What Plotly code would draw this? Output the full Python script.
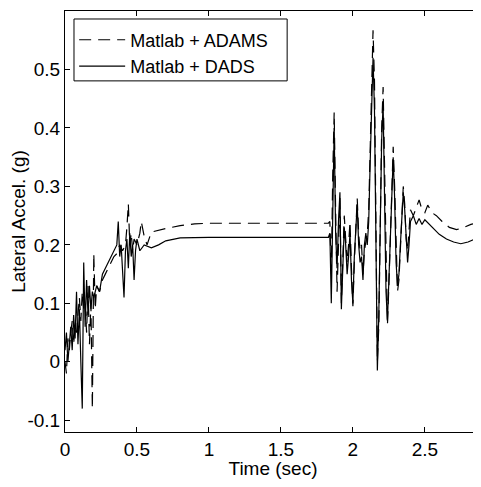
import plotly.graph_objects as go

# Matlab + ADAMS (dashed)
t_adams = [0.00, 0.01, 0.02, 0.03, 0.04, 0.05, 0.06, 0.07, 0.08, 0.09, 0.10, 0.11, 0.12, 0.13, 0.14,
           0.15, 0.16, 0.17, 0.18, 0.19, 0.20, 0.21, 0.22, 0.24, 0.26, 0.28, 0.30, 0.32, 0.34, 0.36,
           0.38, 0.40, 0.42, 0.43, 0.44, 0.45, 0.46, 0.47, 0.48, 0.50, 0.52, 0.53, 0.55, 0.57, 0.60,
           0.70, 0.80, 0.90, 1.00, 1.20, 1.40, 1.60, 1.82,
           1.83, 1.84, 1.85, 1.86, 1.87, 1.88, 1.89, 1.90, 1.91, 1.92, 1.93, 1.94, 1.95, 1.96, 1.97,
           1.98, 1.99, 2.00, 2.01, 2.02, 2.03, 2.04, 2.05, 2.06, 2.07, 2.08, 2.09, 2.10, 2.11, 2.12,
           2.13, 2.14, 2.15, 2.16, 2.17, 2.18, 2.19, 2.20, 2.21, 2.22, 2.23, 2.24, 2.25, 2.26, 2.27,
           2.28, 2.29, 2.30, 2.31, 2.32, 2.33, 2.34, 2.35, 2.36, 2.37, 2.38, 2.39, 2.40, 2.42, 2.44,
           2.46, 2.48, 2.50, 2.52, 2.55, 2.58, 2.62, 2.67, 2.72, 2.77, 2.82, 2.89]
v_adams = [0.00, -0.02, 0.04, 0.02, 0.05, 0.07, 0.03, 0.06, 0.05, 0.08, 0.11, 0.07, 0.12, 0.09, 0.10,
           0.05, 0.13, 0.03, 0.10, -0.08, 0.185, 0.09, 0.13, 0.12, 0.14, 0.15, 0.16, 0.17, 0.18, 0.185,
           0.20, 0.19, 0.20, 0.23, 0.27, 0.20, 0.22, 0.19, 0.21, 0.20, 0.22, 0.24, 0.215, 0.20, 0.222,
           0.228, 0.233, 0.236, 0.237, 0.237, 0.237, 0.237, 0.237,
           0.237, 0.24, 0.15, 0.32, 0.427, 0.26, 0.12, 0.20, 0.28, 0.10, 0.20, 0.25, 0.21, 0.17, 0.20,
           0.24, 0.16, 0.095, 0.17, 0.22, 0.28, 0.22, 0.19, 0.20, 0.15, 0.19, 0.21, 0.22, 0.26, 0.38,
           0.50, 0.567, 0.48, 0.25, 0.00, 0.06, 0.22, 0.40, 0.47, 0.34, 0.15, 0.063, 0.13, 0.21, 0.29,
           0.368, 0.30, 0.19, 0.12, 0.14, 0.20, 0.26, 0.30, 0.27, 0.21, 0.19, 0.23, 0.26, 0.25, 0.265,
           0.277, 0.26, 0.255, 0.268, 0.255, 0.25, 0.24, 0.23, 0.226, 0.23, 0.235, 0.24]

# Matlab + DADS (solid)
t_dads = [0.00, 0.01, 0.02, 0.03, 0.04, 0.05, 0.06, 0.07, 0.08, 0.09, 0.10, 0.11, 0.12, 0.13, 0.14,
          0.15, 0.16, 0.17, 0.18, 0.19, 0.20, 0.22, 0.24, 0.26, 0.28, 0.30, 0.32, 0.34, 0.36, 0.37,
          0.38, 0.39, 0.40, 0.41, 0.42, 0.43, 0.44, 0.45, 0.46, 0.47, 0.48, 0.49, 0.50, 0.52, 0.55,
          0.60, 0.65, 0.70, 0.80, 0.90, 1.00, 1.20, 1.40, 1.60, 1.82,
          1.83, 1.84, 1.85, 1.86, 1.87, 1.88, 1.89, 1.90, 1.91, 1.92, 1.93, 1.94, 1.95, 1.96, 1.97,
          1.98, 1.99, 2.00, 2.01, 2.02, 2.03, 2.04, 2.05, 2.06, 2.07, 2.08, 2.09, 2.10, 2.11, 2.12,
          2.13, 2.14, 2.15, 2.16, 2.17, 2.18, 2.19, 2.20, 2.21, 2.22, 2.23, 2.24, 2.25, 2.26, 2.27,
          2.28, 2.29, 2.30, 2.31, 2.32, 2.33, 2.34, 2.35, 2.36, 2.37, 2.38, 2.39, 2.40, 2.42, 2.44,
          2.46, 2.48, 2.50, 2.55, 2.60, 2.65, 2.70, 2.75, 2.80, 2.85, 2.89]
v_dads = [0.02, 0.05, 0.00, 0.03, 0.06, 0.02, 0.08, 0.04, 0.12, 0.03, 0.09, 0.00, -0.08, 0.17, 0.06,
          0.14, 0.08, 0.13, 0.09, 0.12, 0.11, 0.13, 0.12, 0.15, 0.16, 0.17, 0.18, 0.19, 0.20, 0.24,
          0.18, 0.20, 0.15, 0.11, 0.19, 0.21, 0.16, 0.22, 0.18, 0.20, 0.14, 0.19, 0.21, 0.19, 0.20,
          0.195, 0.20, 0.207, 0.212, 0.213, 0.213, 0.213, 0.213, 0.213, 0.213,
          0.213, 0.22, 0.10, 0.25, 0.40, 0.22, 0.16, 0.24, 0.29, 0.09, 0.17, 0.23, 0.20, 0.15, 0.18,
          0.22, 0.14, 0.10, 0.18, 0.23, 0.27, 0.20, 0.17, 0.18, 0.14, 0.20, 0.22, 0.20, 0.24, 0.34,
          0.45, 0.52, 0.43, 0.20, -0.015, 0.08, 0.25, 0.38, 0.44, 0.30, 0.12, 0.07, 0.15, 0.23, 0.30,
          0.35, 0.28, 0.17, 0.13, 0.15, 0.20, 0.25, 0.29, 0.26, 0.20, 0.17, 0.20, 0.24, 0.25, 0.235,
          0.245, 0.235, 0.243, 0.23, 0.218, 0.21, 0.205, 0.202, 0.205, 0.21, 0.21]

x_ticks = [0, 0.5, 1, 1.5, 2, 2.5]
y_ticks = [-0.1, 0, 0.1, 0.2, 0.3, 0.4, 0.5]
y_tick_text = ["-0.1", "0", "0.1", "0.2", "0.3", "0.4", "0.5"]

fig = go.Figure()
fig.add_trace(go.Scatter(x=t_adams, y=v_adams, mode="lines", name="Matlab + ADAMS",
                         line=dict(color="black", width=1.2, dash="12px,7px")))
fig.add_trace(go.Scatter(x=t_dads, y=v_dads, mode="lines", name="Matlab + DADS",
                         line=dict(color="black", width=1.2)))

font_fam = "Liberation Sans, Arial, sans-serif"
# page body has an 8px default margin, so the figure is sized to fit the window
fig.update_layout(
    width=473, height=471,
    margin=dict(l=57, r=0, t=3, b=47, autoexpand=False),
    paper_bgcolor="white", plot_bgcolor="white",
    font=dict(family=font_fam, size=18, color="black"),
    showlegend=True,
    legend=dict(x=0.022, y=0.975, xanchor="left", yanchor="top",
                borderwidth=0, bgcolor="rgba(0,0,0,0)",
                font=dict(size=18), itemwidth=46, tracegroupgap=0),
    shapes=[dict(type="rect", xref="paper", yref="paper", x0=0.0216, x1=0.534, y0=0.834, y1=0.981,
                 line=dict(color="black", width=1), fillcolor="white", layer="above")],
    xaxis=dict(range=[0, 2.89], tickvals=x_ticks, ticktext=[str(v) for v in x_ticks],
               ticks="inside", ticklen=5, tickcolor="black", showline=True, linecolor="black",
               linewidth=1, mirror="ticks", showgrid=False, zeroline=False, automargin=False,
               title=dict(text="Time (sec)", standoff=2, font=dict(size=19)), tickfont=dict(size=19)),
    yaxis=dict(range=[-0.12, 0.6], tickvals=y_ticks, ticktext=y_tick_text,
               ticks="inside", ticklen=5, tickcolor="black", showline=True, linecolor="black",
               linewidth=1, mirror="ticks", showgrid=False, zeroline=False, automargin=False,
               title=dict(text="Lateral Accel. (g)", standoff=3, font=dict(size=19)), tickfont=dict(size=19)),
)

fig.write_html("out.html")
